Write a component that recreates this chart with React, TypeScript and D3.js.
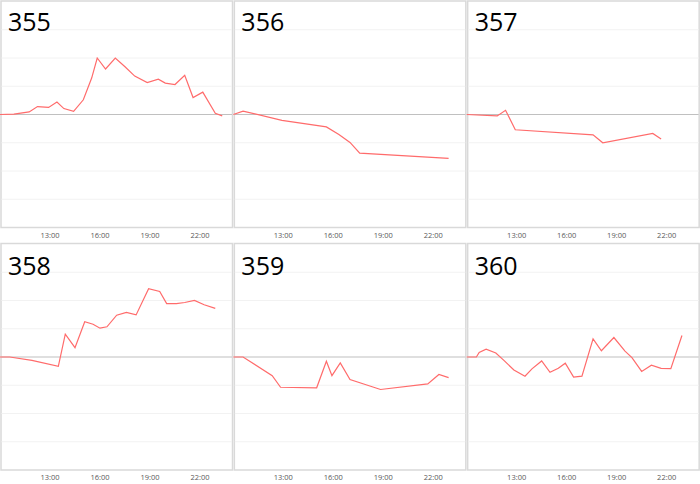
import React from "react";
import * as d3 from "d3";

// ids shown in the corner of each small chart
const panelIds = ["355", "356", "357", "358", "359", "360"];

// times (HH:MM) and values per panel
const times355 = ["10:00", "10:50", "11:45", "12:15", "12:55", "13:25", "13:50", "14:25", "15:00", "15:30", "15:50", "16:20", "16:55", "17:30", "18:05", "18:50", "19:30", "19:55", "20:30", "21:05", "21:35", "22:10", "22:55", "23:20"];
const values355 = [0, 0.01, 0.09, 0.28, 0.25, 0.44, 0.21, 0.11, 0.52, 1.29, 2.0, 1.61, 2.0, 1.69, 1.36, 1.13, 1.25, 1.11, 1.06, 1.39, 0.6, 0.79, 0.04, -0.05];

const times356 = ["10:00", "10:35", "12:55", "15:35", "16:20", "17:00", "17:35", "22:55"];
const values356 = [0, 0.12, -0.21, -0.44, -0.71, -0.99, -1.37, -1.55];

const times357 = ["10:00", "11:50", "12:20", "12:55", "17:35", "18:10", "21:10", "21:40"];
const values357 = [0, -0.05, 0.15, -0.54, -0.72, -1.0, -0.67, -0.87];

const times358 = ["10:00", "10:35", "11:55", "13:30", "13:55", "14:30", "15:05", "15:35", "16:00", "16:25", "17:00", "17:35", "18:10", "18:55", "19:35", "20:00", "20:35", "21:05", "21:40", "22:15", "22:55"];
const values358 = [0, 0, -0.12, -0.33, 0.81, 0.33, 1.25, 1.16, 1.02, 1.07, 1.48, 1.58, 1.49, 2.42, 2.32, 1.89, 1.89, 1.93, 2.0, 1.85, 1.72];

const times359 = ["10:00", "10:35", "12:20", "12:50", "15:00", "15:35", "15:55", "16:25", "17:00", "18:50", "21:40", "22:20", "22:55"];
const values359 = [0, 0, -0.66, -1.07, -1.09, -0.15, -0.66, -0.21, -0.8, -1.15, -0.95, -0.62, -0.73];

const times360 = ["10:00", "10:35", "10:45", "11:10", "11:45", "12:15", "12:50", "13:30", "13:55", "14:30", "15:00", "15:30", "15:55", "16:25", "16:55", "17:35", "18:05", "18:50", "19:30", "19:55", "20:30", "21:05", "21:40", "22:15", "22:55"];
const values360 = [0, 0, 0.16, 0.28, 0.14, -0.13, -0.46, -0.68, -0.42, -0.14, -0.54, -0.4, -0.22, -0.71, -0.68, 0.64, 0.22, 0.69, 0.21, -0.02, -0.51, -0.29, -0.4, -0.41, 0.76];

const tickLabels = ["13:00", "16:00", "19:00", "22:00"];
const gridValues = [-3, -2, -1, 1, 2, 3];

const panelTimes = [times355, times356, times357, times358, times359, times360];
const panelValues = [values355, values356, values357, values358, values359, values360];

const toHours = (t: string) => {
  const [h, m] = t.split(":").map(Number);
  return h + m / 60;
};

const W = 700;
const H = 484;
const panelW = W / 3;
const rowH = 242.5;

const x = d3.scaleLinear().domain([10, 24]).range([0, panelW]);
const y = d3.scaleLinear().domain([-4, 4]).range([227.5, 1.5]);

const line = d3
  .line<[number, number]>()
  .x((d) => x(d[0]))
  .y((d) => y(d[1]));

const Panel: React.FC<{ idx: number }> = ({ idx }) => {
  const col = idx % 3;
  const row = Math.floor(idx / 3);
  const pts: [number, number][] = panelTimes[idx].map((t, i) => [
    toHours(t),
    panelValues[idx][i],
  ]);
  return (
    <g transform={`translate(${col * panelW},${row * rowH})`}>
      <rect x={1} y={1} width={231.5} height={226.5} fill="#fff" stroke="#d9d9d9" strokeWidth={1.5} />
      {gridValues.map((v) => (
        <line key={v} x1={1.5} x2={232} y1={y(v)} y2={y(v)} stroke="#f2f2f2" strokeWidth={1} />
      ))}
      <line x1={1.5} x2={232} y1={y(0)} y2={y(0)} stroke="#c0c0c0" strokeWidth={1.2} />
      <path d={line(pts) ?? ""} fill="none" stroke="#ff6b6b" strokeWidth={1.2} />
      <text
        x={8}
        y={row === 0 ? 31 : 32.5}
        fontFamily="'Open Sans', sans-serif"
        fontSize={25}
        fill="#000"
      >
        {panelIds[idx]}
      </text>
      {tickLabels.map((t) => (
        <text
          key={t}
          x={x(toHours(t))}
          y={237.5}
          textAnchor="middle"
          fontFamily="'Open Sans', sans-serif"
          fontSize={7.5}
          fill="#595959"
        >
          {t}
        </text>
      ))}
    </g>
  );
};

const App: React.FC = () => {
  return (
    <div style={{ position: "absolute", left: 0, top: 0 }}>
      <svg width={W} height={H} style={{ display: "block", background: "#fff" }}>
        {panelIds.map((id, i) => (
          <Panel key={id} idx={i} />
        ))}
      </svg>
    </div>
  );
};

export default App;
